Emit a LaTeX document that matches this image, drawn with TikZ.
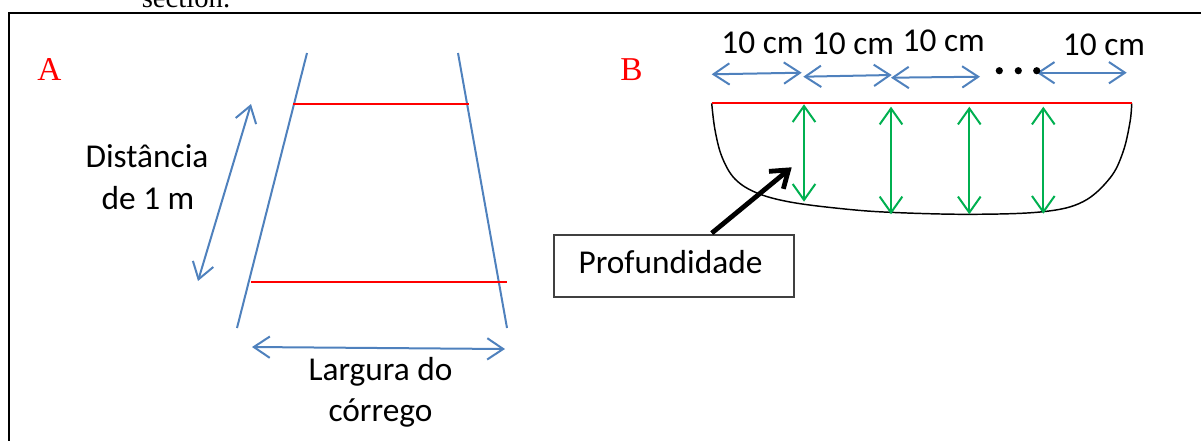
\documentclass[tikz,border=0pt]{standalone}
\usepackage{fontspec}
\setmainfont{Carlito}
\newfontfamily\seriffont{Liberation Serif}
\usetikzlibrary{arrows.meta}
\definecolor{oblue}{RGB}{79,129,189}
\definecolor{ogreen}{RGB}{0,176,80}
\begin{document}
\begin{tikzpicture}[x=0.75pt,y=-0.75pt,
  bluel/.style={draw=oblue,line width=1.5pt},
  barrow/.style={bluel,{Straight Barb[length=12pt,width=16pt]}-{Straight Barb[length=12pt,width=16pt]}},
  garrow/.style={draw=ogreen,line width=1.5pt,{Straight Barb[length=12pt,width=17pt]}-{Straight Barb[length=12pt,width=17pt]}},
  redl/.style={draw=red,line width=1.5pt},
  lbl/.style={font=\fontsize{25pt}{30pt}\selectfont,anchor=base,inner sep=0pt},
  letter/.style={font=\seriffont\fontsize{25pt}{30pt}\selectfont,text=red,anchor=base west,inner sep=0pt}]
\useasboundingbox (0,0) rectangle (1201,440);
\clip (0,0) rectangle (1201,440);
% cut-off caption text and frame
\node[anchor=base,inner sep=0pt,font=\seriffont\fontsize{21.5pt}{25pt}\selectfont] (sec) at (186,7) {section.};
\coordinate (fbl) at (9,450);
\coordinate (ftl) at (9,13.3);
\coordinate (ftr) at (1210,13.3);
\draw[line width=1.6pt] (fbl) -- (ftl) -- (ftr);
% ---------------- Panel A ----------------
\node[letter] (A) at (37,80) {A};
\coordinate (L1) at (307,53);
\coordinate (L2) at (237,328);
\coordinate (R1) at (458,53);
\coordinate (R2) at (507,328);
\draw[bluel] (L1) -- (L2);
\draw[bluel] (R1) -- (R2);
\coordinate (rt1) at (293,103.5);
\coordinate (rt2) at (469,103.5);
\coordinate (rb1) at (251,282);
\coordinate (rb2) at (507,282);
\draw[redl] (rt1) -- (rt2);
\draw[redl] (rb1) -- (rb2);
\coordinate (d1) at (251,104);
\coordinate (d2) at (198,281);
\draw[barrow] (d1) -- (d2);
\coordinate (w1) at (252,347);
\coordinate (w2) at (505,349);
\draw[barrow] (w1) -- (w2);
\node[lbl] (dist1) at (147,167) {Distância};
\node[lbl] (dist2) at (148,209) {de 1 m};
\node[lbl] (larg1) at (380.5,380) {Largura do};
\node[lbl] (larg2) at (380.5,421) {córrego};
% ---------------- Panel B ----------------
\node[letter] (B) at (620,80) {B};
\node[lbl] (c1) at (762.5,53.3) {10 cm};
\node[lbl] (c2) at (853,54.3) {10 cm};
\node[lbl] (c3) at (943.7,51) {10 cm};
\node[lbl] (c4) at (1104,55) {10 cm};
\coordinate (a1l) at (711.7,74.3);
\coordinate (a1r) at (801.7,72.7);
\coordinate (a2l) at (803.3,76.7);
\coordinate (a2r) at (891.7,75);
\coordinate (a3l) at (891,77.7);
\coordinate (a3r) at (980,76.7);
\coordinate (a4l) at (1036.7,72.7);
\coordinate (a4r) at (1126.7,72.7);
\draw[barrow] (a1l) -- (a1r);
\draw[barrow] (a2l) -- (a2r);
\draw[barrow] (a3l) -- (a3r);
\draw[barrow] (a4l) -- (a4r);
\fill (999.3,70.7) circle (3.6);
\fill (1018.3,70.7) circle (3.6);
\fill (1036.7,70.7) circle (3.6);
% channel cross-section
\draw[line width=1.1pt] plot[smooth,tension=0.6] coordinates {(711.7,103.3) (715,130) (722,157) (735,179) (757,193) (790,202) (840,208.5) (890,212.3) (970,214.3) (1043,211.7) (1083,201.7) (1110,178) (1123,152) (1130,122) (1131.7,103.3)};
\coordinate (s1) at (711.7,103.3);
\coordinate (s2) at (1131.7,103.3);
\draw[redl] (s1) -- (s2);
\coordinate (g1t) at (804,104.3);
\coordinate (g1b) at (804,201.7);
\coordinate (g2t) at (891,106.7);
\coordinate (g2b) at (891,214.3);
\coordinate (g3t) at (969.3,106.7);
\coordinate (g3b) at (969.3,214.3);
\coordinate (g4t) at (1043.3,106.7);
\coordinate (g4b) at (1043.3,213.7);
\draw[garrow] (g1t) -- (g1b);
\draw[garrow] (g2t) -- (g2b);
\draw[garrow] (g3t) -- (g3b);
\draw[garrow] (g4t) -- (g4b);
% Profundidade label
\node[draw={rgb,255:red,64;green,64;blue,64},line width=0.8pt,minimum width=180pt,minimum height=46.5pt,inner sep=0pt] (prof) at (674,266) {};
\node[lbl] (proftext) at (670.5,273.3) {Profundidade};
\coordinate (ptip) at (791.7,167.3);
\draw[line width=3.6pt,-{Straight Barb[length=12pt,width=17pt]}] ([xshift=28.3pt,yshift=1pt]prof.north) -- (ptip);
\end{tikzpicture}
\end{document}
